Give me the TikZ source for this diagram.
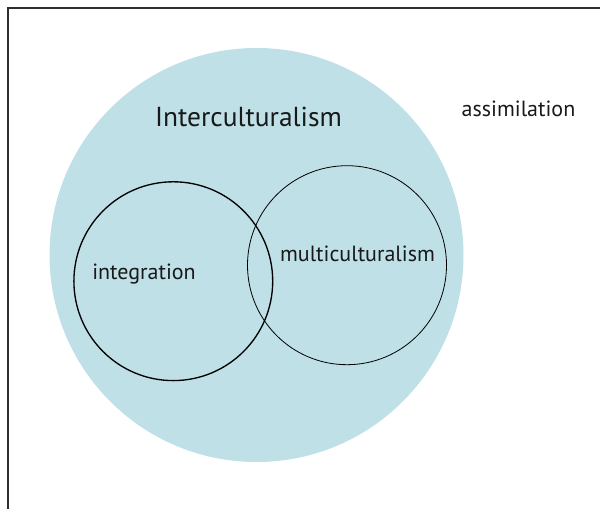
\documentclass[tikz,border=0pt]{standalone}
\usepackage{fontspec}
\setmainfont{PT Sans}
\definecolor{pale}{RGB}{190,224,230}
\definecolor{frame}{RGB}{50,45,48}
\begin{document}
\begin{tikzpicture}[x=0.75pt,y=-0.75pt,
  ring/.style={circle,draw=black,inner sep=0pt,minimum size=#1*1.5pt},
  lbl/.style={font=\fontsize{16.5}{19}\selectfont,inner sep=0pt,text=black!90}]
\useasboundingbox (0,0) rectangle (600,509);
\draw[frame,line width=1.4pt] (8,509) -- (8,8) -- (600,8);
\node[circle,fill=pale,inner sep=0pt,minimum size=310.5pt] (outer) at (256.5,255) {};
\node[ring=99.4,line width=1pt] (integ) at (173.3,281.2) {};
\node[ring=99.5,line width=0.6pt] (multi) at (347,265.2) {};
\node[lbl,font=\fontsize{20.6}{24}\selectfont] (inter) at (248.5,117) {Interculturalism};
\node[lbl] (assim) at (518.5,109) {assimilation};
\node[lbl] (integt) at (144,274) {integration};
\node[lbl] (multit) at (357.5,254) {multiculturalism};
\end{tikzpicture}
\end{document}
